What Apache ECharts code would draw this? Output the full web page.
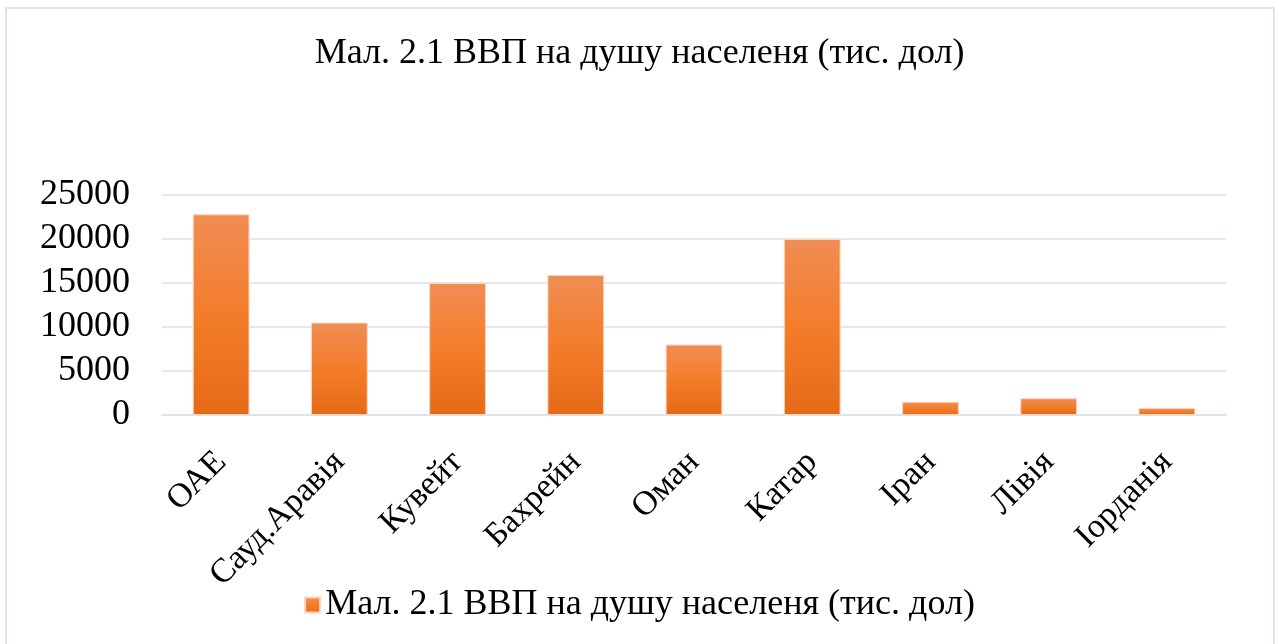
<!DOCTYPE html>
<html>
<head>
<meta charset="utf-8">
<script src="https://cdn.jsdelivr.net/npm/echarts@6/dist/echarts.min.js"></script>
<style>
  html, body { margin: 0; padding: 0; background: #fff; }
  #chart { width: 1279px; height: 644px; }
</style>
</head>
<body>
<div id="chart"></div>
<script>
  // дані з графіка
  const countries = ['ОАЕ', 'Сауд.Аравія', 'Кувейт', 'Бахрейн', 'Оман', 'Катар', 'Іран', 'Лівія', 'Іорданія']
  const gdpPerCapita = [22800, 10500, 15000, 15900, 8000, 20000, 1500, 1900, 800]
  const seriesName = 'Мал. 2.1 ВВП на душу населеня (тис. дол)'

  const serif = '"Liberation Serif", "DejaVu Serif", serif'

  const chart = echarts.init(document.getElementById('chart'))
  chart.setOption({
    animation: false,
    graphic: [{
      type: 'rect',
      shape: { x: 6, y: 8, width: 1268, height: 640 },
      style: { fill: 'none', stroke: '#dfe3ea', lineWidth: 2 },
      silent: true
    }],
    title: {
      text: seriesName,
      left: 'center',
      top: 31,
      textStyle: {
        fontFamily: serif,
        fontWeight: 'normal',
        fontSize: 36,
        color: '#000'
      }
    },
    legend: {
      bottom: 16,
      left: 'center',
      icon: 'rect',
      itemWidth: 15,
      itemHeight: 15,
      itemGap: 8,
      textStyle: {
        fontFamily: serif,
        fontSize: 36,
        color: '#000'
      },
      data: [seriesName]
    },
    grid: {
      left: 162,
      right: 53,
      top: 195,
      bottom: 229
    },
    xAxis: {
      type: 'category',
      data: countries,
      axisLine: { show: true, lineStyle: { color: '#dfe3ea', width: 2 } },
      axisTick: { show: false },
      axisLabel: {
        rotate: 45,
        interval: 0,
        margin: 42,
        fontFamily: serif,
        fontSize: 34,
        color: '#000'
      }
    },
    yAxis: {
      type: 'value',
      min: 0,
      max: 25000,
      interval: 5000,
      axisLine: { show: false },
      axisTick: { show: false },
      splitLine: { lineStyle: { color: '#e3e7ee', width: 2 } },
      axisLabel: {
        margin: 32,
        formatter: v => String(v),
        fontFamily: serif,
        fontSize: 36,
        color: '#000'
      }
    },
    series: [{
      name: seriesName,
      type: 'bar',
      barWidth: '48%',
      data: gdpPerCapita,
      itemStyle: {
        borderColor: '#fbd3b5',
        borderWidth: 1,
        color: new echarts.graphic.LinearGradient(0, 0, 0, 1, [
          { offset: 0, color: '#f08d55' },
          { offset: 0.5, color: '#f47d2a' },
          { offset: 1, color: '#e56a17' }
        ])
      }
    }]
  })
</script>
</body>
</html>
